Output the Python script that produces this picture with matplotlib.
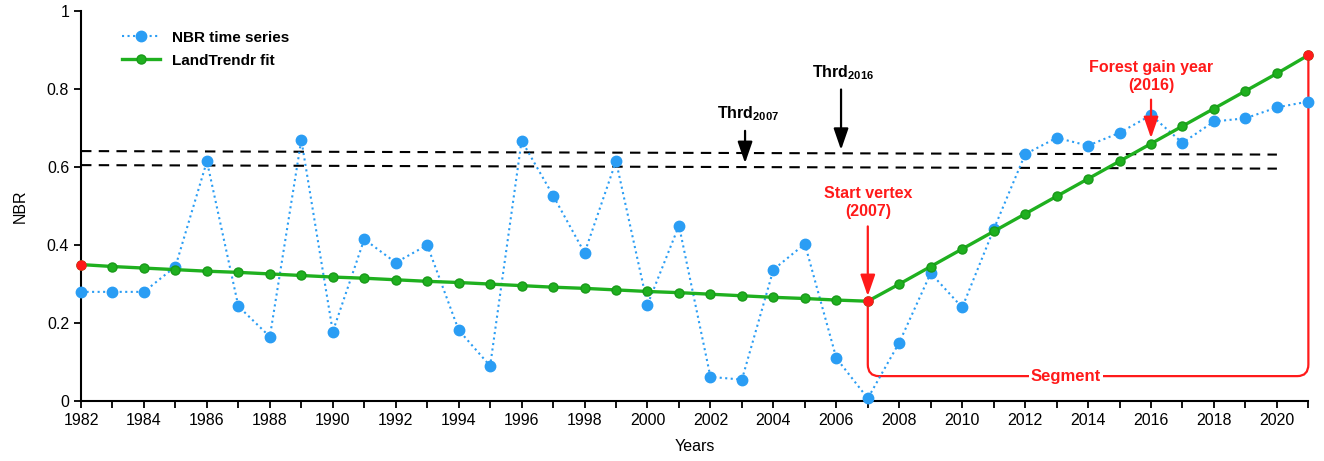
import numpy as np
import matplotlib.pyplot as plt
from matplotlib.path import Path
from matplotlib.patches import PathPatch

plt.rcParams['font.family'] = ['Liberation Sans', 'DejaVu Sans']
plt.rcParams['mathtext.fontset'] = 'custom'
plt.rcParams['mathtext.bf'] = 'Liberation Sans:bold'
plt.rcParams['mathtext.rm'] = 'Liberation Sans'

years = np.arange(1982, 2022)
nbr = [0.280, 0.280, 0.280, 0.345, 0.615, 0.243, 0.165, 0.670, 0.178, 0.415,
       0.355, 0.400, 0.182, 0.090, 0.668, 0.527, 0.380, 0.615, 0.247, 0.450,
       0.062, 0.055, 0.337, 0.403, 0.110, 0.007, 0.150, 0.328, 0.240, 0.440,
       0.633, 0.675, 0.655, 0.688, 0.733, 0.662, 0.717, 0.725, 0.753, 0.768]
fit = [0.350, 0.345, 0.341, 0.337, 0.333, 0.330, 0.326, 0.322, 0.318, 0.315,
       0.311, 0.307, 0.304, 0.300, 0.296, 0.292, 0.289, 0.285, 0.281, 0.278,
       0.274, 0.270, 0.266, 0.263, 0.259, 0.256, 0.300, 0.345, 0.390, 0.435,
       0.480, 0.525, 0.570, 0.615, 0.660, 0.705, 0.750, 0.795, 0.840, 0.887]
vertex_years = [1982, 2007, 2021]
thr_x = [1982, 2020]
thr2016 = [0.641, 0.632]
thr2007 = [0.605, 0.596]

blue = '#2a9df4'
green = '#1fb01f'
red = '#ff1a1a'

fig = plt.figure(figsize=(13.24, 4.61), dpi=100)
ax = fig.add_axes([0.0612, 0.130, 0.927, 0.846])

ax.plot(thr_x, thr2016, '--', color='black', lw=1.5, dashes=(5, 3.5), zorder=1)
ax.plot(thr_x, thr2007, '--', color='black', lw=1.5, dashes=(5, 3.5), zorder=1)

ax.plot(years, nbr, ':', color=blue, lw=1.5, marker='o', ms=7.5,
        markeredgecolor=blue, label='NBR time series', zorder=3, clip_on=False)
ax.plot(years, fit, '-', color=green, lw=2.4, marker='o', ms=6.5,
        markeredgecolor='#199a19', label='LandTrendr fit', zorder=4, clip_on=False)
vy = [fit[list(years).index(v)] for v in vertex_years]
ax.plot(vertex_years, vy, 'o', color=red, ms=6.5, zorder=5, clip_on=False)

# segment bracket
yb = 0.064
rx, ry = 0.35, 0.03
verts = [(2007, vy[1]), (2007, yb + ry), (2007, yb), (2007 + rx, yb),
         (2021 - rx, yb), (2021, yb), (2021, yb + ry), (2021, vy[2])]
codes = [Path.MOVETO, Path.LINETO, Path.CURVE3, Path.CURVE3,
         Path.LINETO, Path.CURVE3, Path.CURVE3, Path.LINETO]
ax.add_patch(PathPatch(Path(verts, codes), fc='none', ec=red, lw=1.6,
                       zorder=2, clip_on=False))
ax.text(2013.3, yb, 'Segment', color=red, fontsize=12, fontweight='bold',
        ha='center', va='center', zorder=6,
        bbox=dict(fc='white', ec='none', pad=1.5))

arrow_k = dict(arrowstyle='-|>,head_width=0.45,head_length=1.3', lw=1.6)
ax.annotate('', xy=(2003.1, 0.603), xytext=(2003.1, 0.700),
            arrowprops=dict(color='black', **arrow_k))
ax.text(2003.2, 0.714, r'Thrd$_{\mathbf{2007}}$', fontsize=11.5, fontweight='bold',
        ha='center', va='bottom')
ax.annotate('', xy=(2006.15, 0.637), xytext=(2006.15, 0.806),
            arrowprops=dict(color='black', **arrow_k))
ax.text(2006.2, 0.818, r'Thrd$_{\mathbf{2016}}$', fontsize=11.5, fontweight='bold',
        ha='center', va='bottom')

ax.annotate('', xy=(2007, 0.262), xytext=(2007, 0.455),
            arrowprops=dict(color=red, **arrow_k))
ax.text(2007, 0.468, 'Start vertex\n(2007)', color=red, fontsize=11.5,
        fontweight='bold', ha='center', va='bottom', linespacing=1.25)
ax.annotate('', xy=(2016, 0.667), xytext=(2016, 0.78),
            arrowprops=dict(color=red, **arrow_k))
ax.text(2016, 0.79, 'Forest gain year\n(2016)', color=red, fontsize=11.5,
        fontweight='bold', ha='center', va='bottom', linespacing=1.25)

ax.set_xlim(1982, 2021)
ax.set_ylim(0, 1)
ax.set_xticks(years, minor=True)
ax.set_xticks(np.arange(1982, 2021, 2))
ax.set_yticks([0, 0.2, 0.4, 0.6, 0.8, 1])
ax.set_yticklabels(['0', '0.2', '0.4', '0.6', '0.8', '1'])
ax.tick_params(which='both', direction='out', length=5, width=1.3, labelsize=11.5)
for s in ['top', 'right']:
    ax.spines[s].set_visible(False)
for s in ['left', 'bottom']:
    ax.spines[s].set_linewidth(1.5)
ax.set_xlabel('Years', fontsize=11.5, labelpad=8)
ax.set_ylabel('NBR', fontsize=11.5, labelpad=14)

leg = ax.legend(loc='upper left', bbox_to_anchor=(0.022, 0.985), frameon=False,
                prop={'weight': 'bold', 'size': 11}, handlelength=2.5,
                handletextpad=0.8, labelspacing=0.6)

fig.savefig('out.png', dpi=100)
